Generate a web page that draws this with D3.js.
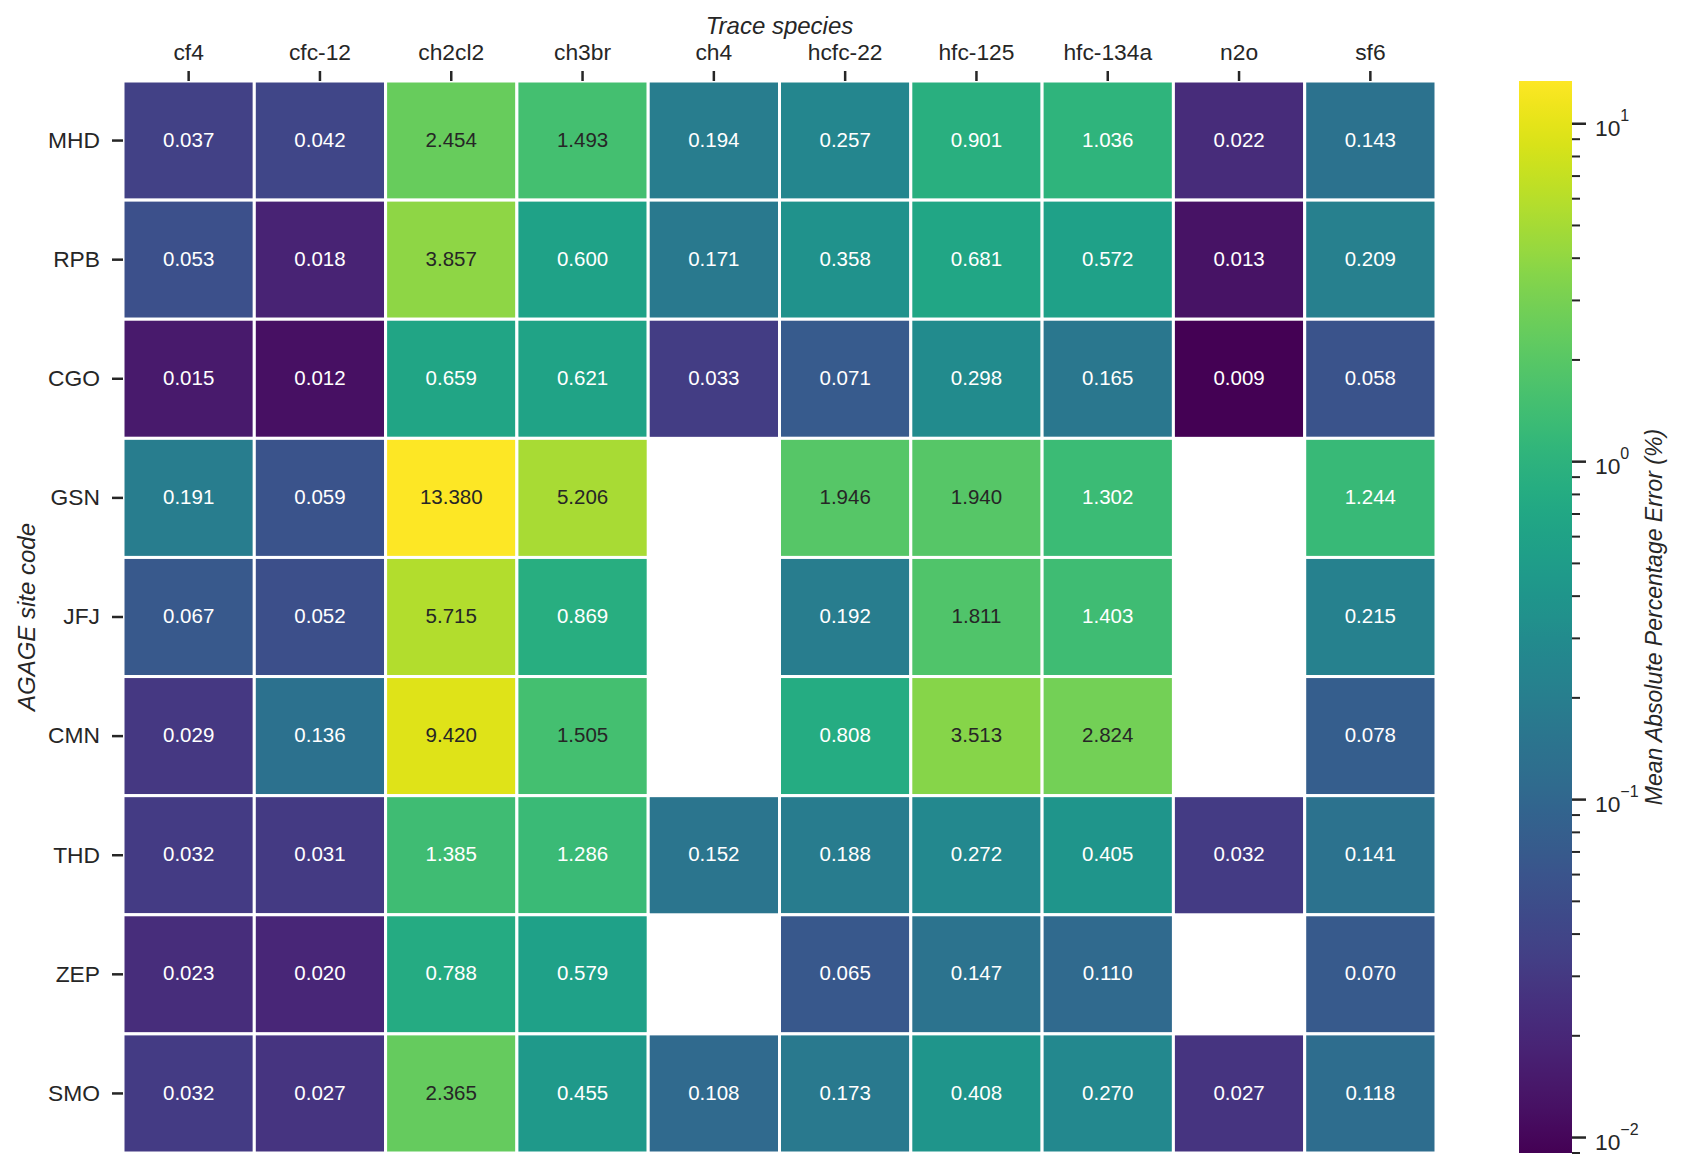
<!DOCTYPE html>
<html>
<head>
  <title>AGAGE MAPE heatmap</title>
  <meta charset="utf-8" />
  <script src="https://d3js.org/d3.v7.min.js"></script>
  <style>
  body { margin: 0; background: #fff; }
  text { font-family: "Liberation Sans", Arial, sans-serif; fill: #262626; }
  </style>
</head>
<body>
  <script>
  // data
  var species = ["cf4", "cfc-12", "ch2cl2", "ch3br", "ch4", "hcfc-22", "hfc-125", "hfc-134a", "n2o", "sf6"];
  var sites = ["MHD", "RPB", "CGO", "GSN", "JFJ", "CMN", "THD", "ZEP", "SMO"];
  var MHD = [0.037, 0.042, 2.454, 1.493, 0.194, 0.257, 0.901, 1.036, 0.022, 0.143];
  var RPB = [0.053, 0.018, 3.857, 0.600, 0.171, 0.358, 0.681, 0.572, 0.013, 0.209];
  var CGO = [0.015, 0.012, 0.659, 0.621, 0.033, 0.071, 0.298, 0.165, 0.009, 0.058];
  var GSN = [0.191, 0.059, 13.380, 5.206, null, 1.946, 1.940, 1.302, null, 1.244];
  var JFJ = [0.067, 0.052, 5.715, 0.869, null, 0.192, 1.811, 1.403, null, 0.215];
  var CMN = [0.029, 0.136, 9.420, 1.505, null, 0.808, 3.513, 2.824, null, 0.078];
  var THD = [0.032, 0.031, 1.385, 1.286, 0.152, 0.188, 0.272, 0.405, 0.032, 0.141];
  var ZEP = [0.023, 0.020, 0.788, 0.579, null, 0.065, 0.147, 0.110, null, 0.070];
  var SMO = [0.032, 0.027, 2.365, 0.455, 0.108, 0.173, 0.408, 0.270, 0.027, 0.118];
  var rows = [MHD, RPB, CGO, GSN, JFJ, CMN, THD, ZEP, SMO];
  var cbarTicks = [0.01, 0.1, 1, 10];
  var cbarExp = ["\u22122", "\u22121", "0", "1"];

  var W = 1685, H = 1171;
  // note: "top" is a reserved window property, so the plot box gets its own names
  var plotL = 123, plotT = 81, plotR = 1436, plotB = 1153;
  var cbL = 1519, cbW = 53;

  var cells = [];
  rows.forEach(function(r, i) {
    r.forEach(function(v, j) {
      if (v != null) cells.push({site: sites[i], sp: species[j], v: v});
    });
  });
  var allV = cells.map(function(d) { return d.v; });

  var svg = d3.select("body").append("svg")
    .attr("width", W)
    .attr("height", H);

  var x = d3.scaleBand().domain(species).range([plotL, plotR]);
  var y = d3.scaleBand().domain(sites).range([plotT, plotB]);
  var norm = d3.scaleLog().domain(d3.extent(allV)).range([0, 1]);
  var color = function(v) { return d3.interpolateViridis(norm(v)); };

  // seaborn style text colour pick (relative luminance)
  function lum(c) {
    var rgb = d3.rgb(c);
    var f = function(u) { u = u / 255; return u <= 0.03928 ? u / 12.92 : Math.pow((u + 0.055) / 1.055, 2.4); };
    return 0.2126 * f(rgb.r) + 0.7152 * f(rgb.g) + 0.0722 * f(rgb.b);
  }

  svg.append("g").selectAll("rect")
    .data(cells).enter().append("rect")
    .attr("x", function(d) { return x(d.sp); })
    .attr("y", function(d) { return y(d.site); })
    .attr("width", x.bandwidth())
    .attr("height", y.bandwidth())
    .style("fill", function(d) { return color(d.v); })
    .style("stroke", "#fff")
    .style("stroke-width", 3);

  svg.append("g").selectAll("text")
    .data(cells).enter().append("text")
    .attr("x", function(d) { return x(d.sp) + x.bandwidth() / 2; })
    .attr("y", function(d) { return y(d.site) + y.bandwidth() / 2; })
    .attr("dy", "0.3em")
    .attr("text-anchor", "middle")
    .style("font-size", "20.5px")
    .style("fill", function(d) { return lum(color(d.v)) > 0.395 ? "#262626" : "#fff"; })
    .text(function(d) { return d.v.toFixed(3); });

  // axes
  var xAxis = svg.append("g")
    .attr("transform", "translate(0," + plotT + ")")
    .call(d3.axisTop(x).tickSize(10).tickPadding(11.5));
  var yAxis = svg.append("g")
    .attr("transform", "translate(" + plotL + ",0)")
    .call(d3.axisLeft(y).tickSize(11).tickPadding(12));
  [xAxis, yAxis].forEach(function(a) {
    a.select(".domain").remove();
    a.selectAll("line").style("stroke", "#262626").style("stroke-width", 2.5);
    a.selectAll("text").style("font-size", "22.8px").style("fill", "#262626").attr("font-family", null);
  });

  svg.append("text")
    .attr("x", (plotL + plotR) / 2).attr("y", 34)
    .attr("text-anchor", "middle")
    .style("font-size", "24px").style("font-style", "italic")
    .text("Trace species");

  svg.append("text")
    .attr("transform", "translate(35," + (plotT + plotB) / 2 + ") rotate(-90)")
    .attr("text-anchor", "middle")
    .style("font-size", "24px").style("font-style", "italic")
    .text("AGAGE site code");

  // colorbar
  var grad = svg.append("defs").append("linearGradient")
    .attr("id", "cb").attr("x1", 0).attr("y1", 1).attr("x2", 0).attr("y2", 0);
  d3.range(0, 1.0001, 0.02).forEach(function(t) {
    grad.append("stop").attr("offset", t).attr("stop-color", d3.interpolateViridis(t));
  });
  svg.append("rect")
    .attr("x", cbL).attr("y", plotT)
    .attr("width", cbW).attr("height", plotB - plotT)
    .style("fill", "url(#cb)");

  var cy = d3.scaleLog().domain(d3.extent(allV)).range([plotB, plotT]);
  var dom = cy.domain();
  var minor = [];
  [0.001, 0.01, 0.1, 1, 10].forEach(function(p) {
    for (var k = 2; k <= 9; k++) {
      var v = p * k;
      if (v >= dom[0] && v <= dom[1]) minor.push(v);
    }
  });
  var cb = svg.append("g").attr("transform", "translate(" + (cbL + cbW) + ",0)");
  cb.selectAll("line.minor").data(minor).enter().append("line")
    .attr("x1", 0).attr("x2", 8)
    .attr("y1", function(d) { return cy(d); }).attr("y2", function(d) { return cy(d); })
    .style("stroke", "#262626").style("stroke-width", 2);
  cb.selectAll("line.major").data(cbarTicks).enter().append("line")
    .attr("x1", 0).attr("x2", 14)
    .attr("y1", function(d) { return cy(d); }).attr("y2", function(d) { return cy(d); })
    .style("stroke", "#262626").style("stroke-width", 2.5);
  var lab = cb.selectAll("text.tl").data(cbarTicks).enter().append("text")
    .attr("x", 23)
    .attr("y", function(d) { return cy(d) + 12.5; })
    .style("font-size", "22.8px");
  lab.append("tspan").text("10");
  lab.append("tspan")
    .attr("dy", -15)
    .style("font-size", "16px")
    .text(function(d, i) { return cbarExp[i]; });

  svg.append("text")
    .attr("transform", "translate(1662," + (plotT + plotB) / 2 + ") rotate(-90)")
    .attr("text-anchor", "middle")
    .style("font-size", "23px").style("font-style", "italic")
    .text("Mean Absolute Percentage Error (%)");
  </script>
</body>
</html>
